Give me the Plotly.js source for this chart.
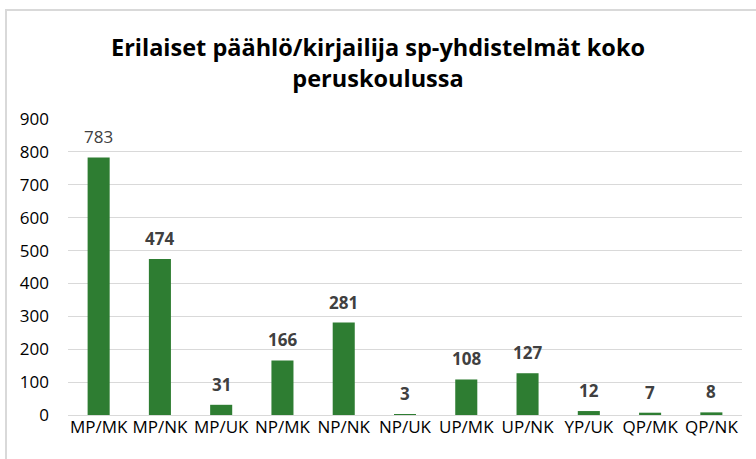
<!DOCTYPE html>
<html>
<head>
<meta charset="utf-8">
<script src="https://cdn.plot.ly/plotly-3.0.1.min.js"></script>
<style>
  html, body { margin: 0; padding: 0; background: #fff; }
  #frame { position: absolute; left: 5px; top: 9px; width: 760px; height: 460px;
           border-left: 2px solid #d9d9d9; border-top: 2px solid #d9d9d9; }
  #chart { position: absolute; left: 0; top: 0; width: 756px; height: 459px; }
</style>
</head>
<body>
<div id="frame"></div>
<div id="chart"></div>
<script>
const categories = ["MP/MK", "MP/NK", "MP/UK", "NP/MK", "NP/NK", "NP/UK", "UP/MK", "UP/NK", "YP/UK", "QP/MK", "QP/NK"];
const counts = [783, 474, 31, 166, 281, 3, 108, 127, 12, 7, 8];
const boldLabel = [false, true, true, true, true, true, true, true, true, true, true];
const yTicks = [0, 100, 200, 300, 400, 500, 600, 700, 800, 900];

const labels = counts.map((v, i) => boldLabel[i] ? "<b>" + v + "</b>" : String(v));

const trace = {
  type: "bar",
  x: categories,
  y: counts,
  cliponaxis: false,
  marker: { color: "#2e7d32", line: { color: "#2e7d32", width: 0 } },
  hoverinfo: "x+y"
};

const annotations = categories.map((c, i) => ({
  x: c,
  y: counts[i],
  xref: "x",
  yref: "y",
  text: labels[i],
  showarrow: false,
  yanchor: "bottom",
  yshift: 7,
  font: { family: "Open Sans, sans-serif", size: 17, color: "#404040" }
}));

const layout = {
  width: 756,
  height: 459,
  paper_bgcolor: "rgba(0,0,0,0)",
  plot_bgcolor: "rgba(0,0,0,0)",
  margin: { l: 68, r: 14, t: 119, b: 44, pad: 0 },
  bargap: 0.64,
  showlegend: false,
  annotations: annotations,
  title: {
    text: "<b>Erilaiset päählö/kirjailija sp-yhdistelmät koko<br>peruskoulussa</b>",
    font: { family: "Open Sans, sans-serif", size: 23.5, color: "#000000" },
    x: 0.5, xanchor: "center",
    y: 0.878, yanchor: "middle", yref: "container"
  },
  font: { family: "Open Sans, sans-serif", size: 17, color: "#000000" },
  xaxis: {
    type: "category",
    showgrid: false,
    showline: false,
    zeroline: false,
    ticks: "",
    tickfont: { family: "Open Sans, sans-serif", size: 17, color: "#000000" },
    fixedrange: true
  },
  yaxis: {
    range: [0, 900],
    tickvals: yTicks,
    ticktext: yTicks.map(String),
    showgrid: true,
    gridcolor: "#d9d9d9",
    gridwidth: 1,
    zeroline: true,
    zerolinecolor: "#d9d9d9",
    zerolinewidth: 1,
    showline: false,
    ticks: "",
    ticklabelstandoff: 18,
    tickfont: { family: "Open Sans, sans-serif", size: 17, color: "#000000" },
    fixedrange: true
  }
};

Plotly.newPlot("chart", [trace], layout, { displayModeBar: false, staticPlot: true });
</script>
</body>
</html>
